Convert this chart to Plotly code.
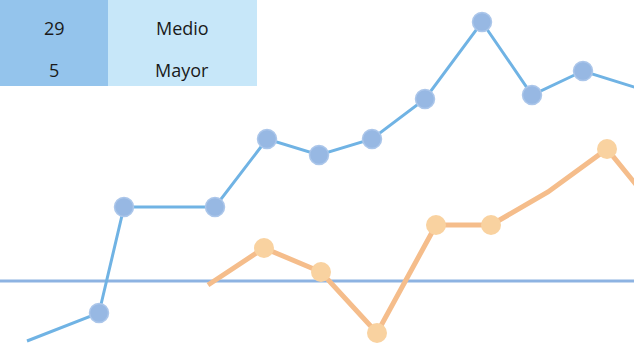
import plotly.graph_objects as go

# Series values
blue_x = [2.7, 9.9, 12.4, 21.5, 26.7, 31.9, 37.2, 42.5, 48.2, 53.2, 58.3, 65.0]
blue_y = [-6.0, -3.2, 7.4, 7.4, 14.2, 12.6, 14.2, 18.2, 25.9, 18.6, 21.0, 18.9]
blue_marker = [0, 1, 1, 1, 1, 1, 1, 1, 1, 1, 1, 1]

orange_x = [20.8, 26.4, 32.1, 37.7, 43.6, 49.1, 54.8, 60.7, 66.0]
orange_y = [-0.4, 3.3, 0.9, -5.2, 5.6, 5.6, 8.9, 13.2, 6.7]
orange_marker = [0, 1, 1, 1, 1, 1, 0, 1, 1]

reference_value = 0.0

# Summary table
table_counts = ["29", "5"]
table_labels = ["Medio", "Mayor"]

fig = go.Figure()

fig.add_shape(type="line", xref="paper", x0=0, x1=1, yref="y",
              y0=reference_value, y1=reference_value,
              line=dict(color="#8db3e2", width=3), layer="below")

fig.add_trace(go.Scatter(
    x=blue_x, y=blue_y, mode="lines+markers",
    line=dict(color="#70b3e4", width=3),
    marker=dict(size=[19 * m for m in blue_marker], color="#97b8e3", opacity=1,
                line=dict(color="#abc6ea", width=1.5)),
    hoverinfo="skip", showlegend=False))

fig.add_trace(go.Scatter(
    x=orange_x, y=orange_y, mode="lines+markers",
    line=dict(color="#f5bd8b", width=5),
    marker=dict(size=[20 * m for m in orange_marker], color="#f9d2a0", opacity=1,
                line=dict(width=0)),
    hoverinfo="skip", showlegend=False))

# Table cells
row_h = 43
for i, (c, lab) in enumerate(zip(table_counts, table_labels)):
    y0 = i * row_h
    fig.add_shape(type="rect", xref="paper", yref="paper",
                  x0=0, x1=108 / 634, y0=1 - (y0 + row_h) / 347, y1=1 - y0 / 347,
                  fillcolor="#94c4ec", line=dict(width=0), layer="above")
    fig.add_shape(type="rect", xref="paper", yref="paper",
                  x0=108 / 634, x1=257 / 634, y0=1 - (y0 + row_h) / 347, y1=1 - y0 / 347,
                  fillcolor="#c7e7f9", line=dict(width=0), layer="above")
    yc = 1 - (28 + 42 * i) / 347
    fig.add_annotation(x=54 / 634, y=yc, xref="paper", yref="paper", text=c,
                       xanchor="center", yanchor="middle",
                       showarrow=False, font=dict(size=18, color="#1a1a1a"))
    fig.add_annotation(x=182 / 634, y=yc, xref="paper", yref="paper", text=lab,
                       xanchor="center", yanchor="middle",
                       showarrow=False, font=dict(size=18, color="#1a1a1a"))

fig.update_layout(
    width=634, height=347, margin=dict(l=0, r=0, t=0, b=0),
    paper_bgcolor="white", plot_bgcolor="white",
    font=dict(family="Open Sans, Noto Sans, sans-serif"),
    xaxis=dict(range=[0, 63.4], visible=False, fixedrange=True),
    yaxis=dict(range=[-6.6, 28.1], visible=False, fixedrange=True),
)

fig.write_html("out.html")
